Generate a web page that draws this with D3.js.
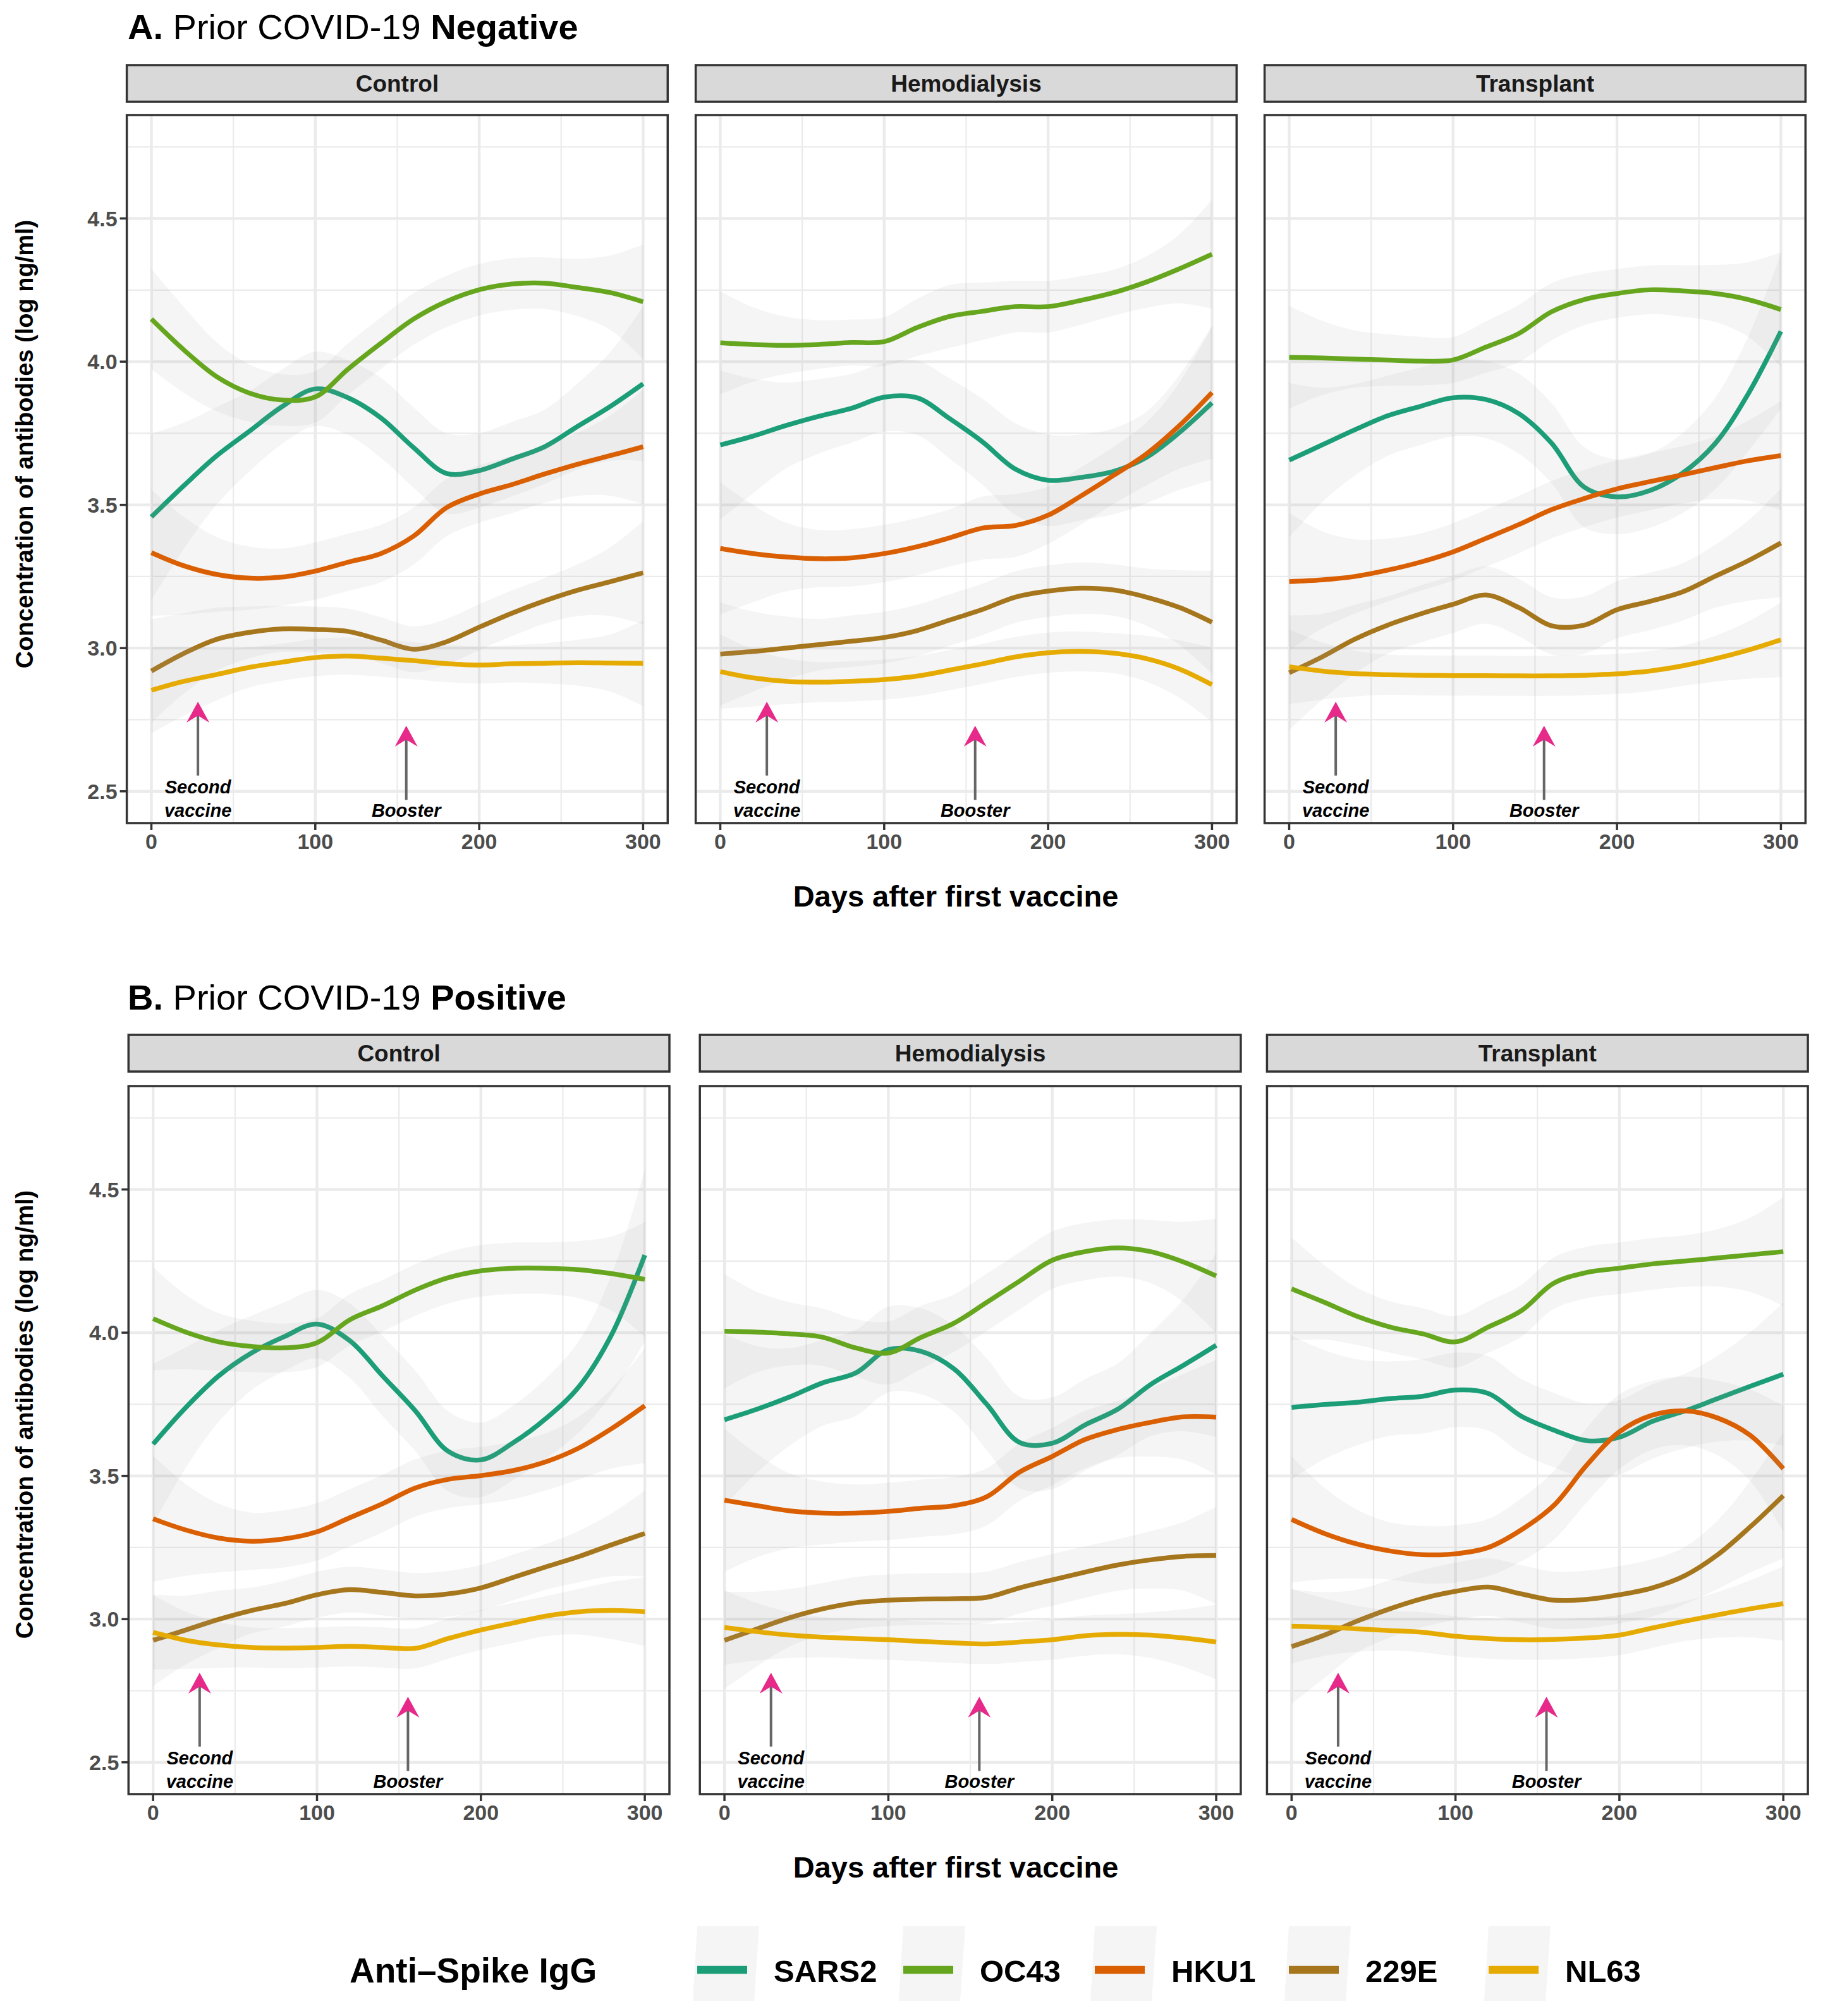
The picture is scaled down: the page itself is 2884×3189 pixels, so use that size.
<!DOCTYPE html>
<html>
<head>
<meta charset="utf-8">
<script src="https://cdn.jsdelivr.net/npm/d3@7"></script>
<style>
  body { margin: 0; background: #ffffff; }
  svg text { font-family: "Liberation Sans", Arial, Helvetica, sans-serif; }
</style>
</head>
<body>
<svg id="chart" width="2884" height="3189"></svg>
<script>
// ---------------- DATA ----------------
const days = [0, 20, 40, 60, 80, 100, 120, 140, 160, 180, 200, 220, 240, 260, 280, 300];
const seriesNames = ["SARS2", "OC43", "HKU1", "229E", "NL63"];
const seriesColors = ["#1B9E77", "#66A61E", "#D95F02", "#A6761D", "#E6AB02"];
const groups = ["Control", "Hemodialysis", "Transplant"];
const xTicks = [0, 100, 200, 300];
const xMinor = [50, 150, 250];
const yTicks = [2.5, 3.0, 3.5, 4.0, 4.5];
const yMinor = [2.75, 3.25, 3.75, 4.25, 4.75];

// Prior COVID-19 Negative
const negControl = {
  SARS2: [3.458, 3.568, 3.672, 3.758, 3.844, 3.905, 3.874, 3.804, 3.700, 3.610, 3.620, 3.660, 3.703, 3.774, 3.844, 3.923],
  OC43:  [4.149, 4.040, 3.947, 3.890, 3.866, 3.877, 3.974, 4.064, 4.149, 4.210, 4.251, 4.271, 4.274, 4.259, 4.241, 4.209],
  HKU1:  [3.333, 3.287, 3.257, 3.244, 3.248, 3.269, 3.300, 3.330, 3.391, 3.490, 3.538, 3.571, 3.608, 3.642, 3.672, 3.703],
  "229E":[2.920, 2.982, 3.031, 3.055, 3.067, 3.065, 3.058, 3.028, 2.996, 3.022, 3.073, 3.122, 3.165, 3.202, 3.232, 3.263],
  NL63:  [2.853, 2.884, 2.908, 2.933, 2.951, 2.967, 2.972, 2.965, 2.956, 2.946, 2.941, 2.945, 2.947, 2.949, 2.948, 2.947]
};
const negControlSE = {
  SARS2: [0.29, 0.22, 0.17, 0.14, 0.13, 0.13, 0.13, 0.14, 0.14, 0.14, 0.13, 0.13, 0.13, 0.15, 0.19, 0.27],
  OC43:  [0.175, 0.15, 0.12, 0.10, 0.09, 0.09, 0.09, 0.09, 0.09, 0.09, 0.09, 0.09, 0.09, 0.10, 0.13, 0.20],
  HKU1:  [0.22, 0.17, 0.13, 0.11, 0.10, 0.10, 0.10, 0.10, 0.10, 0.10, 0.10, 0.10, 0.10, 0.11, 0.14, 0.20],
  "229E":[0.18, 0.14, 0.11, 0.09, 0.08, 0.08, 0.08, 0.08, 0.08, 0.08, 0.08, 0.08, 0.08, 0.09, 0.12, 0.18],
  NL63:  [0.15, 0.12, 0.09, 0.07, 0.065, 0.065, 0.065, 0.065, 0.065, 0.065, 0.065, 0.065, 0.07, 0.08, 0.10, 0.15]
};
const negHemo = {
  SARS2: [3.709, 3.740, 3.777, 3.809, 3.837, 3.876, 3.874, 3.801, 3.720, 3.625, 3.586, 3.596, 3.617, 3.666, 3.752, 3.856],
  OC43:  [4.066, 4.060, 4.057, 4.060, 4.067, 4.070, 4.119, 4.158, 4.176, 4.192, 4.192, 4.214, 4.241, 4.278, 4.324, 4.375],
  HKU1:  [3.348, 3.330, 3.318, 3.312, 3.315, 3.330, 3.354, 3.385, 3.419, 3.428, 3.464, 3.531, 3.603, 3.678, 3.776, 3.892],
  "229E":[2.979, 2.988, 3.000, 3.012, 3.024, 3.037, 3.061, 3.098, 3.135, 3.178, 3.199, 3.209, 3.203, 3.178, 3.142, 3.090],
  NL63:  [2.918, 2.896, 2.884, 2.881, 2.884, 2.890, 2.902, 2.923, 2.945, 2.969, 2.984, 2.988, 2.982, 2.963, 2.927, 2.872]
};
const negHemoSE = {
  SARS2: [0.26, 0.20, 0.15, 0.13, 0.12, 0.12, 0.13, 0.14, 0.15, 0.16, 0.16, 0.15, 0.15, 0.16, 0.20, 0.27],
  OC43:  [0.18, 0.13, 0.10, 0.085, 0.08, 0.085, 0.10, 0.11, 0.10, 0.09, 0.09, 0.085, 0.08, 0.09, 0.12, 0.19],
  HKU1:  [0.23, 0.17, 0.12, 0.10, 0.10, 0.10, 0.10, 0.10, 0.11, 0.11, 0.10, 0.10, 0.10, 0.11, 0.15, 0.23],
  "229E":[0.18, 0.14, 0.11, 0.09, 0.09, 0.09, 0.09, 0.09, 0.09, 0.09, 0.09, 0.09, 0.09, 0.10, 0.13, 0.18],
  NL63:  [0.13, 0.10, 0.08, 0.07, 0.07, 0.07, 0.07, 0.07, 0.07, 0.07, 0.07, 0.07, 0.07, 0.08, 0.10, 0.13]
};
const negTransplant = {
  SARS2: [3.656, 3.709, 3.762, 3.811, 3.844, 3.874, 3.868, 3.819, 3.716, 3.562, 3.528, 3.550, 3.611, 3.715, 3.887, 4.106],
  OC43:  [4.015, 4.013, 4.009, 4.006, 4.002, 4.006, 4.051, 4.098, 4.174, 4.217, 4.238, 4.251, 4.247, 4.238, 4.217, 4.182],
  HKU1:  [3.232, 3.238, 3.250, 3.272, 3.300, 3.336, 3.383, 3.431, 3.483, 3.522, 3.556, 3.581, 3.605, 3.630, 3.654, 3.672],
  "229E":[2.914, 2.969, 3.031, 3.080, 3.119, 3.153, 3.185, 3.142, 3.078, 3.080, 3.134, 3.163, 3.196, 3.251, 3.305, 3.367],
  NL63:  [2.935, 2.920, 2.911, 2.907, 2.905, 2.904, 2.904, 2.903, 2.903, 2.905, 2.910, 2.920, 2.938, 2.963, 2.993, 3.029]
};
const negTransplantSE = {
  SARS2: [0.27, 0.20, 0.16, 0.14, 0.135, 0.135, 0.135, 0.14, 0.14, 0.14, 0.13, 0.13, 0.14, 0.16, 0.20, 0.27],
  OC43:  [0.18, 0.13, 0.10, 0.09, 0.085, 0.08, 0.09, 0.10, 0.10, 0.09, 0.085, 0.085, 0.09, 0.10, 0.13, 0.20],
  HKU1:  [0.24, 0.17, 0.13, 0.11, 0.10, 0.10, 0.10, 0.10, 0.10, 0.10, 0.10, 0.10, 0.10, 0.11, 0.14, 0.19],
  "229E":[0.20, 0.15, 0.12, 0.10, 0.10, 0.10, 0.10, 0.10, 0.10, 0.10, 0.10, 0.10, 0.10, 0.11, 0.14, 0.19],
  NL63:  [0.13, 0.10, 0.08, 0.07, 0.07, 0.07, 0.07, 0.07, 0.07, 0.07, 0.07, 0.07, 0.07, 0.08, 0.10, 0.13]
};

// Prior COVID-19 Positive
const posControl = {
  SARS2: [3.611, 3.739, 3.849, 3.929, 3.986, 4.030, 3.972, 3.849, 3.727, 3.586, 3.556, 3.617, 3.702, 3.813, 3.996, 4.271],
  OC43:  [4.049, 4.002, 3.968, 3.952, 3.947, 3.965, 4.045, 4.094, 4.149, 4.192, 4.216, 4.225, 4.225, 4.220, 4.206, 4.186],
  HKU1:  [3.350, 3.311, 3.283, 3.272, 3.280, 3.305, 3.354, 3.403, 3.458, 3.488, 3.501, 3.519, 3.550, 3.598, 3.666, 3.745],
  "229E":[2.926, 2.962, 2.999, 3.030, 3.054, 3.085, 3.103, 3.093, 3.081, 3.088, 3.109, 3.146, 3.183, 3.219, 3.260, 3.299],
  NL63:  [2.954, 2.926, 2.910, 2.901, 2.899, 2.901, 2.905, 2.901, 2.898, 2.932, 2.962, 2.987, 3.011, 3.026, 3.030, 3.026]
};
const posControlSE = {
  SARS2: [0.28, 0.21, 0.16, 0.13, 0.12, 0.12, 0.13, 0.14, 0.14, 0.14, 0.13, 0.13, 0.14, 0.16, 0.21, 0.30],
  OC43:  [0.18, 0.13, 0.10, 0.09, 0.085, 0.085, 0.09, 0.09, 0.09, 0.09, 0.09, 0.09, 0.09, 0.10, 0.13, 0.20],
  HKU1:  [0.22, 0.16, 0.12, 0.10, 0.10, 0.10, 0.10, 0.10, 0.10, 0.10, 0.10, 0.10, 0.10, 0.11, 0.14, 0.20],
  "229E":[0.16, 0.12, 0.10, 0.08, 0.08, 0.08, 0.08, 0.08, 0.08, 0.08, 0.08, 0.08, 0.08, 0.09, 0.11, 0.15],
  NL63:  [0.13, 0.10, 0.08, 0.07, 0.07, 0.07, 0.07, 0.07, 0.07, 0.07, 0.07, 0.07, 0.07, 0.08, 0.10, 0.12]
};
const posHemo = {
  SARS2: [3.696, 3.733, 3.776, 3.825, 3.859, 3.941, 3.935, 3.874, 3.750, 3.617, 3.614, 3.678, 3.733, 3.819, 3.886, 3.956],
  OC43:  [4.005, 4.002, 3.996, 3.984, 3.947, 3.929, 3.984, 4.033, 4.106, 4.180, 4.253, 4.283, 4.296, 4.283, 4.247, 4.198],
  HKU1:  [3.415, 3.396, 3.378, 3.370, 3.370, 3.376, 3.387, 3.396, 3.427, 3.513, 3.568, 3.627, 3.662, 3.687, 3.706, 3.705],
  "229E":[2.926, 2.966, 3.005, 3.036, 3.057, 3.066, 3.070, 3.071, 3.076, 3.109, 3.137, 3.164, 3.189, 3.207, 3.219, 3.222],
  NL63:  [2.971, 2.956, 2.944, 2.937, 2.932, 2.928, 2.922, 2.917, 2.913, 2.920, 2.928, 2.942, 2.947, 2.944, 2.934, 2.920]
};
const posHemoSE = {
  SARS2: [0.30, 0.22, 0.17, 0.15, 0.15, 0.15, 0.15, 0.15, 0.16, 0.16, 0.16, 0.16, 0.16, 0.18, 0.23, 0.32],
  OC43:  [0.20, 0.14, 0.11, 0.10, 0.10, 0.11, 0.11, 0.10, 0.10, 0.10, 0.10, 0.10, 0.10, 0.11, 0.14, 0.20],
  HKU1:  [0.25, 0.18, 0.13, 0.11, 0.10, 0.10, 0.10, 0.10, 0.10, 0.10, 0.10, 0.10, 0.10, 0.12, 0.15, 0.20],
  "229E":[0.17, 0.13, 0.10, 0.09, 0.09, 0.09, 0.09, 0.09, 0.09, 0.09, 0.09, 0.09, 0.09, 0.10, 0.12, 0.17],
  NL63:  [0.13, 0.10, 0.08, 0.07, 0.07, 0.07, 0.07, 0.07, 0.07, 0.07, 0.07, 0.07, 0.07, 0.08, 0.10, 0.13]
};
const posTransplant = {
  SARS2: [3.739, 3.749, 3.757, 3.770, 3.778, 3.800, 3.788, 3.709, 3.660, 3.623, 3.635, 3.690, 3.727, 3.770, 3.813, 3.855],
  OC43:  [4.153, 4.106, 4.057, 4.020, 3.996, 3.968, 4.020, 4.076, 4.173, 4.210, 4.225, 4.240, 4.250, 4.261, 4.272, 4.283],
  HKU1:  [3.348, 3.299, 3.262, 3.238, 3.225, 3.228, 3.250, 3.311, 3.397, 3.537, 3.654, 3.712, 3.727, 3.702, 3.641, 3.525],
  "229E":[2.904, 2.944, 2.993, 3.036, 3.072, 3.097, 3.112, 3.088, 3.066, 3.069, 3.085, 3.109, 3.152, 3.225, 3.323, 3.431],
  NL63:  [2.975, 2.972, 2.966, 2.960, 2.954, 2.940, 2.932, 2.928, 2.929, 2.934, 2.944, 2.969, 2.993, 3.015, 3.036, 3.054]
};
const posTransplantSE = {
  SARS2: [0.25, 0.19, 0.15, 0.13, 0.13, 0.13, 0.13, 0.13, 0.13, 0.13, 0.13, 0.13, 0.13, 0.15, 0.19, 0.25],
  OC43:  [0.18, 0.13, 0.10, 0.09, 0.09, 0.09, 0.09, 0.09, 0.09, 0.09, 0.09, 0.09, 0.09, 0.10, 0.13, 0.19],
  HKU1:  [0.22, 0.16, 0.12, 0.10, 0.10, 0.10, 0.10, 0.11, 0.12, 0.13, 0.13, 0.12, 0.12, 0.13, 0.16, 0.22],
  "229E":[0.20, 0.15, 0.11, 0.10, 0.10, 0.10, 0.10, 0.10, 0.10, 0.10, 0.10, 0.10, 0.10, 0.12, 0.16, 0.22],
  NL63:  [0.13, 0.10, 0.08, 0.07, 0.07, 0.07, 0.07, 0.07, 0.07, 0.07, 0.07, 0.07, 0.07, 0.08, 0.10, 0.13]
};

// Annotations (vaccination events)
const annotDays = [28.4, 155.5];
const annotTips = [2.813, 2.729];
const annotTails = [2.555, 2.47];
const annotLines = [["Second", "vaccine"], ["Booster"]];
const annotBaseline = 2.411;

const rowLetters = ["A.", "B."];
const rowStatus = ["Negative", "Positive"];
const rowPanels = [[negControl, negHemo, negTransplant], [posControl, posHemo, posTransplant]];
const rowPanelsSE = [[negControlSE, negHemoSE, negTransplantSE], [posControlSE, posHemoSE, posTransplantSE]];

// ---------------- LAYOUT ----------------
const svg = d3.select("#chart");
const FONT = '"Liberation Sans", Arial, Helvetica, sans-serif';
const panelW = 855.7, panelH = 1120;
const rowLayout = [
  { top: 182, stripTop: 103, titleY: 62, lefts: [200.6, 1100.6, 2000.6], xTitleY: 1434, tickLabY: 1343 },
  { top: 1718, stripTop: 1637, titleY: 1597, lefts: [203.3, 1107.2, 2004.4], xTitleY: 2970, tickLabY: 2879 }
];
const stripH = 58;

const color = d3.scaleOrdinal().domain(seriesNames).range(seriesColors);

rowLayout.forEach((row, ri) => {
  // Title
  const t = svg.append("text").attr("x", 202).attr("y", row.titleY)
    .attr("font-size", 56).attr("fill", "#000");
  t.append("tspan").attr("font-weight", "bold").text(rowLetters[ri]);
  t.append("tspan").attr("font-weight", "normal").text(" Prior COVID-19 ");
  t.append("tspan").attr("font-weight", "bold").text(rowStatus[ri]);

  // Y axis title
  const yc = (row.stripTop + row.top + panelH) / 2;
  svg.append("text")
    .attr("transform", `translate(52,${yc}) rotate(-90)`)
    .attr("text-anchor", "middle")
    .attr("font-size", 38).attr("font-weight", "bold").attr("fill", "#000")
    .text("Concentration of antibodies (log ng/ml)");

  // X axis title
  svg.append("text").attr("x", 1512).attr("y", row.xTitleY)
    .attr("text-anchor", "middle").attr("font-size", 47).attr("font-weight", "bold").attr("fill", "#000")
    .text("Days after first vaccine");

  groups.forEach((g, gi) => {
    const left = row.lefts[gi];
    const x = d3.scaleLinear().domain([-15, 315]).range([left, left + panelW]);
    const y = d3.scaleLinear().domain([2.389, 4.861]).range([row.top + panelH, row.top]);
    const pg = svg.append("g");
    const clipId = `clip-${ri}-${gi}`;
    pg.append("clipPath").attr("id", clipId).append("rect")
      .attr("x", left).attr("y", row.top).attr("width", panelW).attr("height", panelH);

    // Strip
    pg.append("rect").attr("x", left).attr("y", row.stripTop).attr("width", panelW).attr("height", stripH)
      .attr("fill", "#D9D9D9").attr("stroke", "#333333").attr("stroke-width", 3.5);
    pg.append("text").attr("x", left + panelW / 2).attr("y", row.stripTop + stripH / 2)
      .attr("dy", "0.36em").attr("text-anchor", "middle").attr("font-size", 37)
      .attr("font-weight", "bold").attr("fill", "#1A1A1A").text(g);

    // background
    pg.append("rect").attr("x", left).attr("y", row.top).attr("width", panelW).attr("height", panelH).attr("fill", "#fff");

    const grid = pg.append("g").attr("clip-path", `url(#${clipId})`);
    grid.selectAll(".ymin").data(yMinor).join("line")
      .attr("x1", left).attr("x2", left + panelW).attr("y1", d => y(d)).attr("y2", d => y(d))
      .attr("stroke", "#EBEBEB").attr("stroke-width", 2.2);
    grid.selectAll(".xmin").data(xMinor).join("line")
      .attr("y1", row.top).attr("y2", row.top + panelH).attr("x1", d => x(d)).attr("x2", d => x(d))
      .attr("stroke", "#EBEBEB").attr("stroke-width", 2.2);
    grid.selectAll(".ymaj").data(yTicks).join("line")
      .attr("x1", left).attr("x2", left + panelW).attr("y1", d => y(d)).attr("y2", d => y(d))
      .attr("stroke", "#EBEBEB").attr("stroke-width", 4.4);
    grid.selectAll(".xmaj").data(xTicks).join("line")
      .attr("y1", row.top).attr("y2", row.top + panelH).attr("x1", d => x(d)).attr("x2", d => x(d))
      .attr("stroke", "#EBEBEB").attr("stroke-width", 4.4);

    // Smooth ribbons and lines
    const dataObj = rowPanels[ri][gi];
    const seObj = rowPanelsSE[ri][gi];
    const curve = d3.curveCatmullRom.alpha(0.5);
    const area = d3.area().x(d => x(d.day)).y0(d => y(d.v - d.se)).y1(d => y(d.v + d.se)).curve(curve);
    const line = d3.line().x(d => x(d.day)).y(d => y(d.v)).curve(curve);
    const marks = pg.append("g").attr("clip-path", `url(#${clipId})`);
    seriesNames.forEach(s => {
      const pts = days.map((d, i) => ({ day: d, v: dataObj[s][i], se: seObj[s][i] }));
      marks.append("path").attr("d", area(pts)).attr("fill", "#999999").attr("fill-opacity", 0.1);
      marks.append("path").attr("d", line(pts)).attr("fill", "none")
        .attr("stroke", color(s)).attr("stroke-width", 7.5);
    });

    // Annotations
    annotDays.forEach((ad, ai) => {
      const ax = x(ad), tipY = y(annotTips[ai]), tailY = y(annotTails[ai]);
      marks.append("line").attr("x1", ax).attr("x2", ax).attr("y1", tailY).attr("y2", tipY + 20)
        .attr("stroke", "#666666").attr("stroke-width", 4);
      marks.append("path")
        .attr("d", `M${ax},${tipY} L${ax + 18},${tipY + 33} L${ax},${tipY + 22} L${ax - 18},${tipY + 33} Z`)
        .attr("fill", "#E7298A");
      const lines = annotLines[ai];
      const by = y(annotBaseline);
      lines.forEach((ln, li) => {
        marks.append("text").attr("x", ax).attr("y", by - (lines.length - 1 - li) * 37)
          .attr("text-anchor", "middle").attr("font-size", 29).attr("font-weight", "bold")
          .attr("font-style", "italic").attr("fill", "#000").text(ln);
      });
    });

    // Border
    pg.append("rect").attr("x", left).attr("y", row.top).attr("width", panelW).attr("height", panelH)
      .attr("fill", "none").attr("stroke", "#333333").attr("stroke-width", 3.5);

    // X axis ticks
    const xa = pg.append("g");
    xa.selectAll("line").data(xTicks).join("line")
      .attr("x1", d => x(d)).attr("x2", d => x(d)).attr("y1", row.top + panelH).attr("y2", row.top + panelH + 11)
      .attr("stroke", "#333333").attr("stroke-width", 3.5);
    xa.selectAll("text").data(xTicks).join("text")
      .attr("x", d => x(d)).attr("y", row.tickLabY).attr("text-anchor", "middle")
      .attr("font-size", 34).attr("font-weight", "bold").attr("fill", "#4D4D4D").text(d => d);

    // Y axis (left panel only)
    if (gi === 0) {
      const ya = pg.append("g");
      ya.selectAll("line").data(yTicks).join("line")
        .attr("x1", left - 11).attr("x2", left).attr("y1", d => y(d)).attr("y2", d => y(d))
        .attr("stroke", "#333333").attr("stroke-width", 3.5);
      ya.selectAll("text").data(yTicks).join("text")
        .attr("x", left - 15).attr("y", d => y(d)).attr("dy", "0.36em").attr("text-anchor", "end")
        .attr("font-size", 34).attr("font-weight", "bold").attr("fill", "#4D4D4D").text(d => d3.format(".1f")(d));
    }
  });
});

// ---------------- LEGEND ----------------
const legendKeyX = [1100, 1426, 1729, 2036, 2352];
const lg = svg.append("g");
lg.append("text").attr("x", 553).attr("y", 3136).attr("font-size", 55).attr("font-weight", "bold")
  .attr("fill", "#000").text("Anti\u2013Spike IgG");
seriesNames.forEach((s, i) => {
  const kx = legendKeyX[i];
  lg.append("path")
    .attr("d", `M${kx + 3},3047 L${kx + 101},3047 L${kx + 93},3165 L${kx - 4},3165 Z`)
    .attr("fill", "#999999").attr("fill-opacity", 0.1);
  lg.append("line").attr("x1", kx + 3).attr("x2", kx + 82).attr("y1", 3116).attr("y2", 3116)
    .attr("stroke", color(s)).attr("stroke-width", 12.5);
  lg.append("text").attr("x", kx + 124).attr("y", 3135).attr("font-size", 49).attr("font-weight", "bold")
    .attr("fill", "#000").text(s);
});
</script>
</body>
</html>
